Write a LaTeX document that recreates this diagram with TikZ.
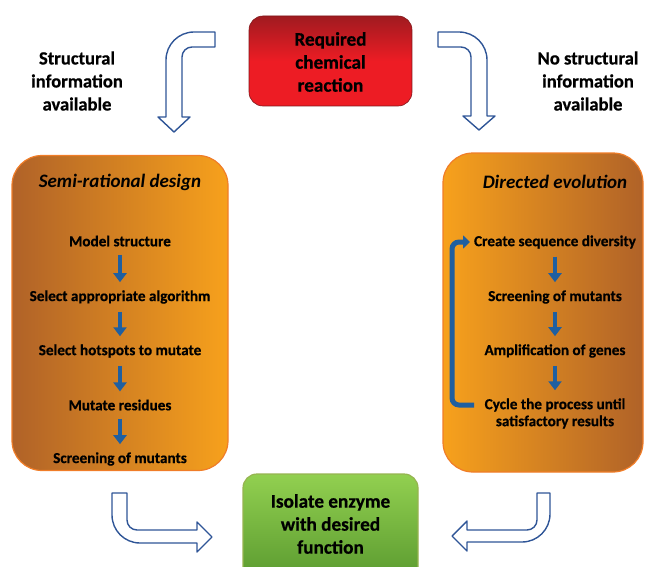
\documentclass[tikz,border=0pt]{standalone}
\usepackage{fontspec}
\setmainfont[BoldFeatures={FakeBold=0.6}]{Carlito}
\usetikzlibrary{arrows.meta}
\definecolor{hollowblue}{RGB}{47,85,151}
\definecolor{stepblue}{RGB}{31,95,160}
\definecolor{redtop}{RGB}{160,27,32}
\definecolor{redbot}{RGB}{237,28,36}
\definecolor{orbright}{RGB}{247,161,28}
\definecolor{ordark}{RGB}{176,98,40}
\definecolor{orborder}{RGB}{240,125,40}
\definecolor{grtop}{RGB}{146,208,80}
\definecolor{grbot}{RGB}{88,152,46}
\definecolor{grborder}{RGB}{150,180,80}
\tikzset{
  bigtxt/.style={font=\fontsize{19.2}{23}\selectfont\bfseries, align=center, inner sep=2pt},
  sidetxt/.style={font=\fontsize{18.6}{23}\selectfont\bfseries, align=center, inner sep=2pt},
  steptxt/.style={font=\fontsize{15.2}{17}\selectfont\bfseries, align=center, inner sep=2pt},
  titletxt/.style={font=\fontsize{19}{21}\selectfont\bfseries\itshape, inner sep=2pt},
  hollow/.style={draw=hollowblue, line width=1.4pt, fill=white, line join=round},
  stepar/.style={draw=stepblue, line width=4.5pt, -{Triangle[length=9pt,width=13pt]}, shorten <=6pt, shorten >=6pt},
  cycar/.style={draw=stepblue, line width=5pt, rounded corners=7pt, -{Triangle[length=7pt,width=13pt]}},
  orbox/.style={draw=orborder, line width=1.2pt, rounded corners=30pt, minimum width=216pt, minimum height=315pt},
}
\begin{document}
\begin{tikzpicture}[x=1pt,y=-1pt]
\useasboundingbox (0,0) rectangle (650,567);
\clip (0,0) rectangle (650,567);

% red box
\node[draw=redtop!80!black, line width=0.6pt, rounded corners=14pt, top color=redtop, bottom color=redbot, middle color=redbot, minimum width=163pt, minimum height=90pt] (req) at (330.5,61) {};
\node[bigtxt] (reqt) at (330.5,62) {Required\\chemical\\reaction};

% side texts
\node[sidetxt] (lefttxt) at (77,81) {Structural\\information\\available};
\node[sidetxt] (righttxt) at (588,81) {No structural\\information\\available};

% top hollow arrows
\path[hollow] (215,32) -- (194,32) .. controls (178.5,32) and (166,44.5) .. (166,60) -- (166,117) -- (158,117) -- (174,132) -- (190,117) -- (182,117) -- (182,57) .. controls (182,51.5) and (186.5,47) .. (192,47) -- (215,47) -- cycle;
\path[hollow] (438,32) -- (459,32) .. controls (474.5,32) and (487,44.5) .. (487,60) -- (487,116) -- (495,116) -- (479,130) -- (463,116) -- (471,116) -- (471,57) .. controls (471,51.5) and (466.5,47) .. (461,47) -- (438,47) -- cycle;

% orange boxes
\node[orbox, left color=ordark, right color=orbright] (semi) at (120,313) {};
\node[orbox, minimum width=200pt, minimum height=319pt, left color=orbright, right color=ordark] (dir) at (543,312.5) {};

\node[titletxt] (semit) at (120,182) {Semi-rational design};
\node[titletxt] (dirt) at (555,182) {Directed evolution};

% left steps
\node[steptxt] (s1) at (120,241) {Model structure};
\node[steptxt] (s2) at (120,297) {Select appropriate algorithm};
\node[steptxt] (s3) at (120,351) {Select hotspots to mutate};
\node[steptxt] (s4) at (120,405) {Mutate residues};
\node[steptxt] (s5) at (120,459) {Screening of mutants};
\draw[stepar] (s1) -- (s2);
\draw[stepar] (s2) -- (s3);
\draw[stepar] (s3) -- (s4);
\draw[stepar] (s4) -- (s5);

% right steps
\node[steptxt] (d1) at (555,242) {Create sequence diversity};
\node[steptxt] (d2) at (555,297) {Screening of mutants};
\node[steptxt] (d3) at (555,351) {Amplification of genes};
\node[steptxt] (d4) at (555,413.5) {Cycle the process until\\satisfactory results};
\draw[stepar] (d1) -- (d2);
\draw[stepar] (d2) -- (d3);
\draw[stepar] (d3) -- (d4);
\coordinate (cycs) at (474,405);
\coordinate (cyce) at (470,242);
\draw[cycar] (cycs) -- (452,405) -- (452,242) -- (cyce);

% green box
\node[draw=grborder, line width=1.2pt, rounded corners=14pt, top color=grtop, bottom color=grbot, minimum width=175pt, minimum height=110pt] (iso) at (330.5,529) {};
\node[bigtxt] (isot) at (330.5,524) {Isolate enzyme\\with desired\\function};

% bottom hollow arrows
\path[hollow] (112,493) -- (112,515) .. controls (112,530.5) and (124.5,543) .. (140,543) -- (197,543) -- (197,552) -- (212,537) -- (197,522) -- (197,530) -- (137,530) .. controls (131.5,530) and (127,525.5) .. (127,520) -- (127,493) -- cycle;
\path[hollow] (550,493) -- (550,514) .. controls (550,529.5) and (537.5,542) .. (522,542) -- (467,542) -- (467,551) -- (452,536) -- (467,521) -- (467,530) -- (527,530) .. controls (532.5,530) and (537,525.5) .. (537,520) -- (537,493) -- cycle;
\end{tikzpicture}
\end{document}
